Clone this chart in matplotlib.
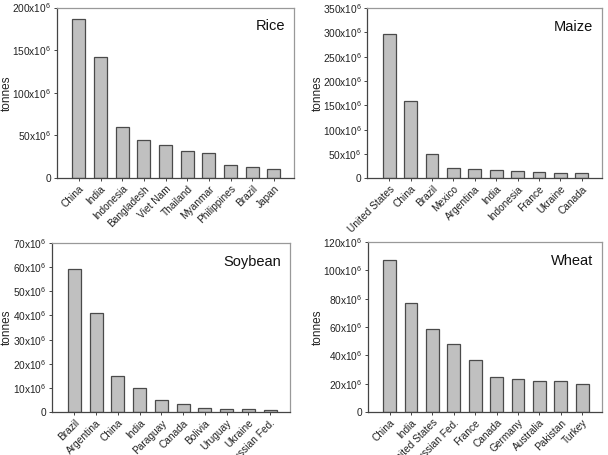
import matplotlib
matplotlib.use('Agg')
import matplotlib.pyplot as plt
import numpy as np

plt.rcParams['font.family'] = ['Liberation Sans', 'DejaVu Sans']
plt.rcParams['mathtext.default'] = 'regular'

# ── Data (tonnes, in millions) ───────────────────────────────────────────────
rice_countries = ['China', 'India', 'Indonesia', 'Bangladesh', 'Viet Nam',
                  'Thailand', 'Myanmar', 'Philippines', 'Brazil', 'Japan']
rice_values = [187, 141.7, 60, 44.6, 38.4, 32, 29.3, 15.6, 12.5, 10.9]

maize_countries = ['United States', 'China', 'Brazil', 'Mexico', 'Argentina',
                   'India', 'Indonesia', 'France', 'Ukraine', 'Canada']
maize_values = [297, 159.5, 50.6, 21, 18.5, 17, 14.4, 13.7, 10.9, 10.3]

soy_countries = ['Brazil', 'Argentina', 'China', 'India', 'Paraguay',
                 'Canada', 'Bolivia', 'Uruguay', 'Ukraine', 'Russian Fed.']
soy_values = [59, 41.1, 15, 10.2, 5.2, 3.4, 1.8, 1.2, 1.2, 0.95]

wheat_countries = ['China', 'India', 'United States', 'Russian Fed.', 'France',
                   'Canada', 'Germany', 'Australia', 'Pakistan', 'Turkey']
wheat_values = [107.3, 77.2, 58.6, 48.2, 36.5, 24.9, 23.3, 22.1, 22.1, 19.8]

# title, categories, values, y ticks, axes rect, ylabel x (figure fraction)
panels = [
    ('Rice', rice_countries, rice_values, np.arange(0, 201, 50),
     [0.0933, 0.6088, 0.390, 0.3747], 0.021),
    ('Maize', maize_countries, maize_values, np.arange(0, 351, 50),
     [0.604, 0.608, 0.3855, 0.3744], 0.533),
    ('Soybean', soy_countries, soy_values, np.arange(0, 71, 10),
     [0.086, 0.0938, 0.391, 0.3728], 0.021),
    ('Wheat', wheat_countries, wheat_values, np.arange(0, 121, 20),
     [0.6048, 0.0945, 0.385, 0.3736], 0.533),
]

fig = plt.figure(figsize=(6.08, 4.55), dpi=100)

for title, cats, vals, yticks, rect, ylab_x in panels:
    ax = fig.add_axes(rect)
    x = np.arange(len(cats))
    ax.bar(x, vals, width=0.6, color='#c0c0c0', edgecolor='#4a4a4a',
           linewidth=0.9, zorder=2)
    ax.set_xlim(-1.02, 9.92)
    ax.set_ylim(0, yticks[-1])
    ax.set_yticks(yticks)
    ax.set_yticklabels(['0' if v == 0 else '%dx10$^{6}$' % v for v in yticks],
                       fontsize=7.3)
    ax.set_xticks(x)
    ax.set_xticklabels(cats, rotation=45, ha='right', rotation_mode='anchor',
                       fontsize=7.3)
    ax.tick_params(axis='both', direction='out', length=2.5, width=0.7,
                   color='#444444', pad=1.5, labelcolor='#222222')
    for side in ('left', 'bottom'):
        ax.spines[side].set_color('#444444')
        ax.spines[side].set_linewidth(0.9)
    for side in ('top', 'right'):
        ax.spines[side].set_color('#999999')
        ax.spines[side].set_linewidth(0.9)
    ax.set_ylabel('tonnes', fontsize=8.5, color='#222222')
    ax.yaxis.set_label_coords(ylab_x, rect[1] + rect[3] / 2,
                              transform=fig.transFigure)
    ax.text(0.962, 0.93, title, transform=ax.transAxes, ha='right', va='top',
            fontsize=10.5, color='#111111')

fig.savefig('out.png', dpi=100)
